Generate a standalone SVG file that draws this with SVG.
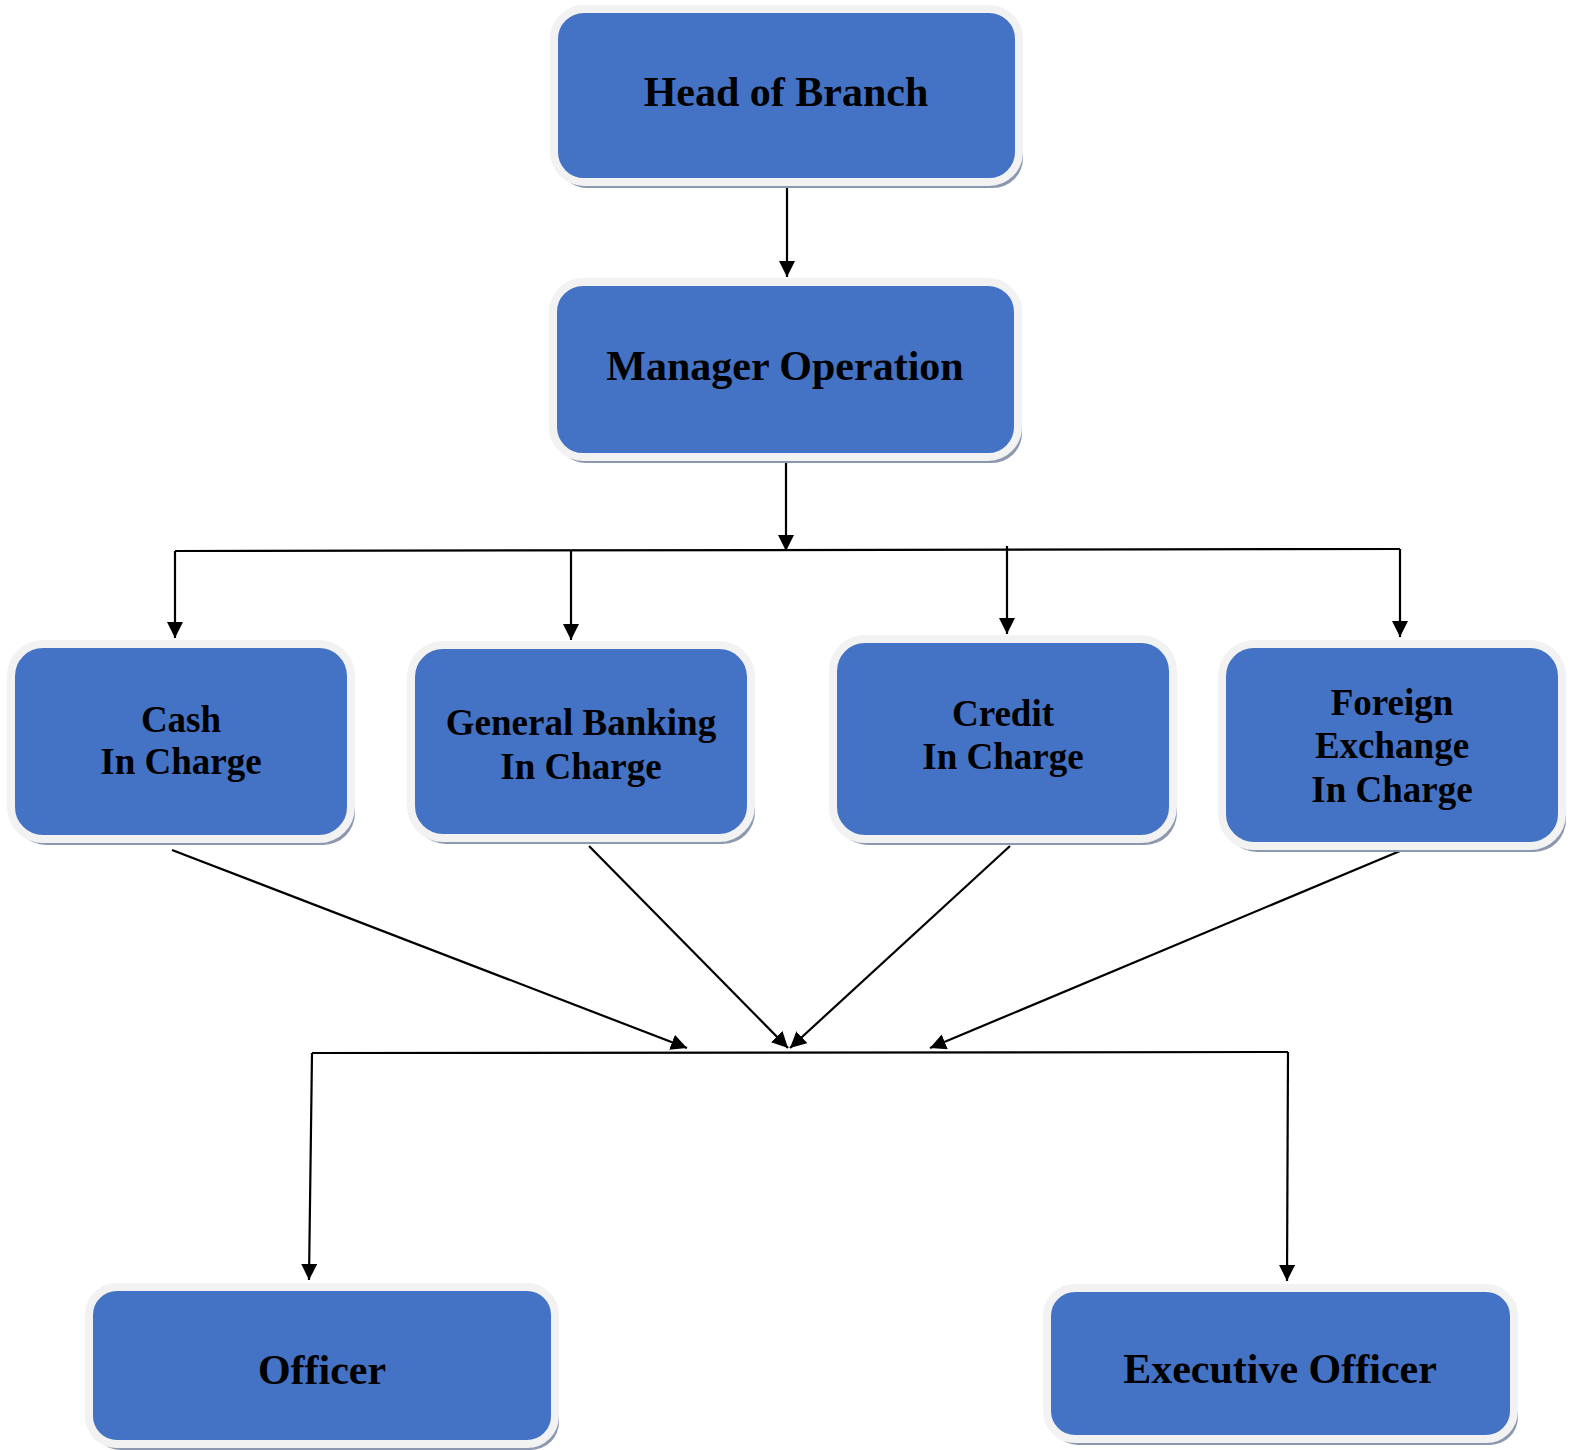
<svg xmlns="http://www.w3.org/2000/svg" width="1577" height="1450" viewBox="0 0 1577 1450">
<style>
.shadow{fill:#8c98b0}
.box{fill:#4472C4;stroke:#F2F2F2;stroke-width:8}
.lbl{font-family:"Liberation Serif","Times New Roman",serif;font-weight:bold;fill:#000;text-anchor:middle}
.big{font-size:42px}
.mid{font-size:37px}
.conn{fill:none;stroke:#000;stroke-width:2.2}
</style>
<defs>
<marker id="arr" markerUnits="userSpaceOnUse" viewBox="0 0 16 16" markerWidth="16" markerHeight="16" refX="16" refY="8" orient="auto">
<path d="M0,0 L16,8 L0,16 z" fill="#000"/>
</marker>
</defs>
<rect width="1577" height="1450" fill="#fff"/>
<g id="connectors">
<path class="conn" d="M787,188 L787,277" marker-end="url(#arr)"/>
<path class="conn" d="M786,463 L786,551" marker-end="url(#arr)"/>
<path class="conn" d="M175,551 L1400,549"/>
<path class="conn" d="M175,551 L175,638" marker-end="url(#arr)"/>
<path class="conn" d="M571,550 L571,640" marker-end="url(#arr)"/>
<path class="conn" d="M1007,546 L1007,634" marker-end="url(#arr)"/>
<path class="conn" d="M1400,549 L1400,637" marker-end="url(#arr)"/>
<path class="conn" d="M172,850 L687,1048" marker-end="url(#arr)"/>
<path class="conn" d="M589,846 L788,1048" marker-end="url(#arr)"/>
<path class="conn" d="M1010,846 L790,1048" marker-end="url(#arr)"/>
<path class="conn" d="M1400,851 L930,1048" marker-end="url(#arr)"/>
<path class="conn" d="M312,1053 L1288,1052"/>
<path class="conn" d="M312,1053 L309,1280" marker-end="url(#arr)"/>
<path class="conn" d="M1288,1052 L1287,1281" marker-end="url(#arr)"/>
</g>
<g id="head">
<rect class="shadow" x="557" y="14" width="466" height="174" rx="30"/>
<rect class="box" x="554" y="9" width="465" height="173" rx="30"/>
<text class="lbl big" x="786" y="106">Head of Branch</text>
</g>
<g id="manager">
<rect class="shadow" x="556" y="287" width="466" height="176" rx="30"/>
<rect class="box" x="553" y="282" width="465" height="175" rx="30"/>
<text class="lbl big" x="785" y="380">Manager Operation</text>
</g>
<g id="cash">
<rect class="shadow" x="14" y="649" width="341" height="196" rx="32"/>
<rect class="box" x="11" y="644" width="340" height="195" rx="32"/>
<text class="lbl mid" x="181" y="732">Cash</text>
<text class="lbl mid" x="181" y="774">In Charge</text>
</g>
<g id="general-banking">
<rect class="shadow" x="414" y="650" width="341" height="194" rx="32"/>
<rect class="box" x="411" y="645" width="340" height="193" rx="32"/>
<text class="lbl mid" x="581" y="735">General Banking</text>
<text class="lbl mid" x="581" y="779">In Charge</text>
</g>
<g id="credit">
<rect class="shadow" x="836" y="644" width="341" height="201" rx="32"/>
<rect class="box" x="833" y="639" width="340" height="200" rx="32"/>
<text class="lbl mid" x="1003" y="726">Credit</text>
<text class="lbl mid" x="1003" y="769">In Charge</text>
</g>
<g id="foreign-exchange">
<rect class="shadow" x="1225" y="649" width="341" height="203" rx="32"/>
<rect class="box" x="1222" y="644" width="340" height="202" rx="32"/>
<text class="lbl mid" x="1392" y="715">Foreign</text>
<text class="lbl mid" x="1392" y="758">Exchange</text>
<text class="lbl mid" x="1392" y="802">In Charge</text>
</g>
<g id="officer">
<rect class="shadow" x="92" y="1292" width="467" height="158" rx="28"/>
<rect class="box" x="89" y="1287" width="466" height="157" rx="28"/>
<text class="lbl big" x="322" y="1384">Officer</text>
</g>
<g id="executive-officer">
<rect class="shadow" x="1050" y="1293" width="468" height="152" rx="28"/>
<rect class="box" x="1047" y="1288" width="467" height="151" rx="28"/>
<text class="lbl big" x="1280" y="1383">Executive Officer</text>
</g>
</svg>
